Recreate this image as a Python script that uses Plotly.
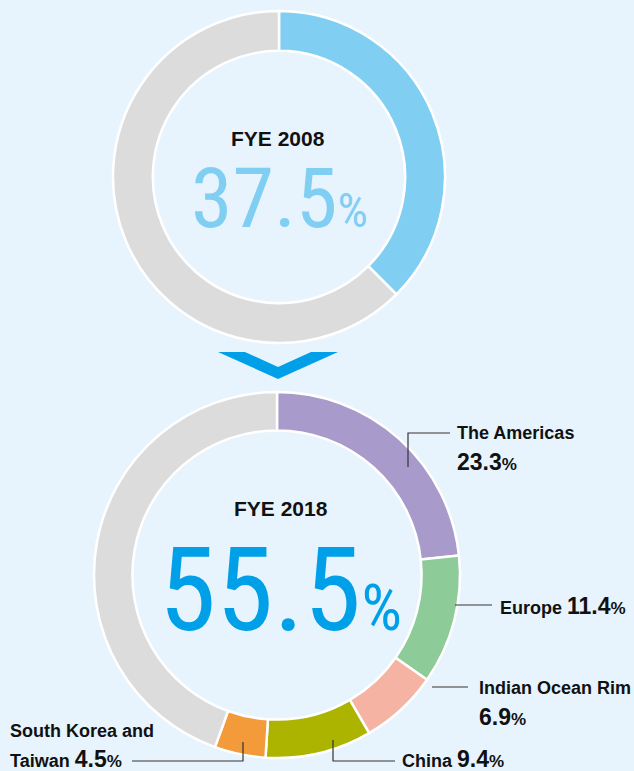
import plotly.graph_objects as go

# ---- data ----
regions = ["The Americas", "Europe", "Indian Ocean Rim", "China", "South Korea and Taiwan"]
shares_2018 = [23.3, 11.4, 6.9, 9.4, 4.5]
total_2018 = 55.5
share_2008 = 37.5
year_2008 = "FYE 2008"
year_2018 = "FYE 2018"

region_colors = ["#A89BCB", "#8DCB99", "#F5B3A3", "#ADB400", "#F39A3A"]
rest_color = "#DCDCDC"
bg = "#E8F4FD"

W, H = 634, 771


def px(x):
    return x / W


def py(y):
    return 1 - y / H


fig = go.Figure()

# top donut (FYE 2008)
fig.add_trace(go.Pie(
    values=[share_2008, 100 - share_2008],
    labels=["Overseas", "Japan"],
    marker=dict(colors=["#80CFF3", rest_color], line=dict(color="white", width=2.5)),
    hole=0.76, sort=False, direction="clockwise", rotation=0,
    textinfo="none", hoverinfo="skip", showlegend=False,
    domain=dict(x=[px(113), px(445)], y=[py(343), py(11)]),
))

# bottom donut (FYE 2018)
fig.add_trace(go.Pie(
    values=shares_2018 + [round(100 - sum(shares_2018), 1)],
    labels=regions + ["Japan"],
    marker=dict(colors=region_colors + [rest_color], line=dict(color="white", width=2.5)),
    hole=0.79, sort=False, direction="clockwise", rotation=0,
    textinfo="none", hoverinfo="skip", showlegend=False,
    domain=dict(x=[px(94), px(460)], y=[py(758), py(392)]),
))

NUMFONT = "Liberation Sans Narrow, Roboto Condensed, Roboto"
LBLFONT = "Liberation Sans, Arial, sans-serif"

ann = []


def add(text, x, y, size, color="#111111", family=LBLFONT, xanchor="left"):
    ann.append(dict(text=text, x=px(x), y=py(y), xref="paper", yref="paper",
                    xanchor=xanchor, yanchor="middle", showarrow=False,
                    font=dict(size=size, color=color, family=family)))


# center texts
add(f"<b>{year_2008}</b>", 278, 138, 21, xanchor="center")
add(f"{share_2008}<span style='font-size:48px'>%</span>", 279, 199, 84,
    color="#80CFF3", family=NUMFONT, xanchor="center")
add(f"<b>{year_2018}</b>", 281, 508, 21, xanchor="center")
add(f"{total_2018}<span style='font-size:64px'>%</span>", 280, 590, 116,
    color="#00A0E9", family=NUMFONT, xanchor="center")


def num(v, big=23, small=17):
    return f"<b><span style='font-size:{big}px'>{v}</span><span style='font-size:{small}px'>%</span></b>"


# region labels
add(f"<b>{regions[0]}</b>", 455, 433, 18)
add(num(shares_2018[0]), 455, 462, 23)
add(f"<b>{regions[1]}</b> " + num(shares_2018[1]), 498, 606, 18)
add(f"<b>{regions[2]}</b>", 477, 688, 18)
add(num(shares_2018[2]), 477, 717, 23)
add(f"<b>{regions[3]}</b> " + num(shares_2018[3]), 400, 759, 18)
add("<b>South Korea and</b>", 8, 731, 18)
add("<b>Taiwan</b> " + num(shares_2018[4]), 8, 759, 18)

# leader lines (pixel coords converted to paper)
leaders = [
    [(408, 467), (408, 433), (450, 433)],
    [(455, 605), (492, 605)],
    [(432, 687), (468, 687)],
    [(333, 740), (333, 761), (395, 761)],
    [(132, 761), (243, 761), (243, 742)],
]
shapes = []
for pts in leaders:
    path = "M " + " L ".join(f"{px(x):.5f},{py(y):.5f}" for x, y in pts)
    shapes.append(dict(type="path", path=path, xref="paper", yref="paper",
                       line=dict(color="#333333", width=1.2)))

# chevron arrow between the two donuts
chev = [(218, 352), (245, 352), (278, 367), (311, 352), (338, 352), (278, 379)]
path = "M " + " L ".join(f"{px(x):.5f},{py(y):.5f}" for x, y in chev) + " Z"
shapes.append(dict(type="path", path=path, xref="paper", yref="paper",
                   fillcolor="#00A0E9", line=dict(width=0)))

fig.update_layout(
    width=W, height=H,
    margin=dict(l=0, r=0, t=0, b=0),
    paper_bgcolor=bg, plot_bgcolor=bg,
    annotations=ann, shapes=shapes,
)

fig.write_html(
    "out.html",
    config={"displayModeBar": False},
    post_script="document.body.style.margin='0';document.body.style.overflow='hidden';",
)
